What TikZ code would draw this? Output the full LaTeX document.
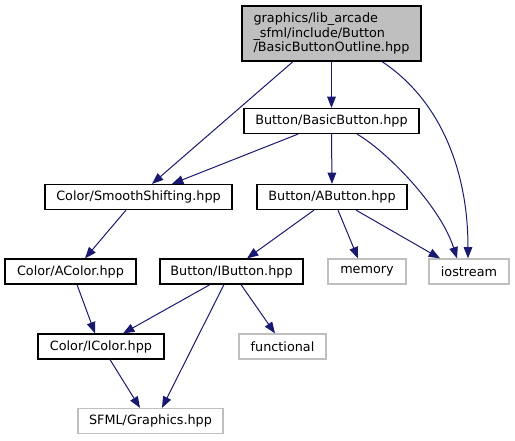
\documentclass[tikz,border=0pt]{standalone}
\usepackage{fontspec}
\setmainfont{DejaVu Sans}
\usetikzlibrary{arrows.meta}
\definecolor{edgeblue}{HTML}{191970}
\definecolor{boxgray}{HTML}{BFBFBF}
\tikzset{
  every node/.style={font=\fontsize{9.6}{11}\selectfont, inner sep=0pt, line width=0.9pt},
  intbox/.style={draw=black, fill=white, minimum height=18.75pt},
  extbox/.style={draw=boxgray, fill=white, minimum height=18.75pt},
  topbox/.style={draw=black, fill=boxgray, align=left, minimum height=41.25pt},
  dep/.style={draw=edgeblue, line width=0.75pt, -{Triangle[length=8.5pt,width=6.5pt]}, fill=none},
}
\begin{document}
\begin{tikzpicture}[x=0.75pt,y=-0.75pt]
\useasboundingbox (0,0) rectangle (515,440);
\node[topbox, minimum width=134.25pt] (top) at (331.5,33.5) {graphics/lib\_arcade\\\_sfml/include/Button\\/BasicButtonOutline.hpp};
\node[intbox, minimum width=131.25pt] (bb) at (331.5,121) {Button/BasicButton.hpp};
\node[intbox, minimum width=140.25pt] (ss) at (138.5,197) {Color/SmoothShifting.hpp};
\node[intbox, minimum width=112.5pt] (ab) at (332,197) {Button/AButton.hpp};
\node[intbox, minimum width=98.25pt] (ac) at (70.5,271.5) {Color/AColor.hpp};
\node[intbox, minimum width=107.25pt] (ib) at (231.5,271.5) {Button/IButton.hpp};
\node[extbox, minimum width=58.5pt] (mem) at (367,271.5) {memory};
\node[extbox, minimum width=60pt] (ios) at (469,271.5) {iostream};
\node[intbox, minimum width=94.5pt] (ic) at (101,346.5) {Color/IColor.hpp};
\node[extbox, minimum width=65.25pt] (fn) at (282.5,346.5) {functional};
\node[extbox, minimum width=108.75pt] (sf) at (150.5,421) {SFML/Graphics.hpp};

\draw[dep] (top.south) -- (bb.north);
\draw[dep] (top.south -| 293,0) -- (ss.north -| 152,0);
\draw[dep] (top.south -| 382,0) .. controls (440,100) and (468,170) .. (ios.north -| 468,0);
\draw[dep] (bb.south -| 298,0) -- (ss.north -| 172,0);
\draw[dep] (bb.south) -- (ab.north);
\draw[dep] (bb.south -| 357,0) .. controls (385,150) and (440,205) .. (ios.north -| 457,0);
\draw[dep] (ab.south -| 314,0) -- (ib.north -| 247,0);
\draw[dep] (ab.south -| 338,0) -- (mem.north -| 358,0);
\draw[dep] (ab.south -| 356,0) -- (ios.north -| 440,0);
\draw[dep] (ss.south -| 126,0) -- (ac.north -| 85,0);
\draw[dep] (ac.south -| 77,0) -- (ic.north -| 95,0);
\draw[dep] (ib.south -| 210,0) -- (ic.north -| 123,0);
\draw[dep] (ib.south -| 224,0) -- (sf.north -| 162,0);
\draw[dep] (ib.south -| 241,0) -- (fn.north -| 275,0);
\draw[dep] (ic.south -| 110,0) -- (sf.north -| 140,0);
\end{tikzpicture}
\end{document}
